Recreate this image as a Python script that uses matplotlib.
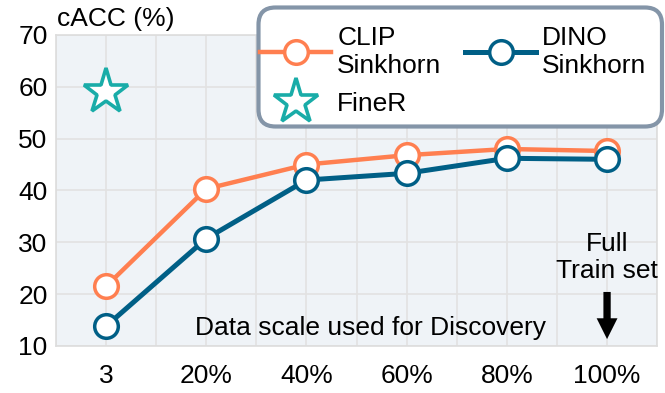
import matplotlib.pyplot as plt
from matplotlib.patches import FancyBboxPatch

plt.rcParams['font.family'] = ['Liberation Sans', 'DejaVu Sans']

# data
scales = ["3", "20%", "40%", "60%", "80%", "100%"]
clip_sinkhorn = [21.5, 40.3, 45.0, 46.8, 48.0, 47.6]
dino_sinkhorn = [13.8, 30.7, 42.0, 43.3, 46.2, 46.0]
finer_x = ["3"]
finer_y = [58.9]

orange = "#FF7F50"
blue = "#005F86"
teal = "#19ACA8"

fig = plt.figure(figsize=(6.65, 3.93), dpi=100)
ax = fig.add_axes([0.0842, 0.120, 0.904, 0.791])
ax.set_facecolor("#EFF3F7")

xs = list(range(len(scales)))
l1, = ax.plot(xs, clip_sinkhorn, color=orange, lw=3.2, marker="o", ms=17,
              mfc="white", mec=orange, mew=2.5, label="CLIP\nSinkhorn", zorder=3)
l2, = ax.plot(xs, dino_sinkhorn, color=blue, lw=3.6, marker="o", ms=17,
              mfc="white", mec=blue, mew=2.5, label="DINO\nSinkhorn", zorder=4)
fx = [scales.index(s) for s in finer_x]
l3, = ax.plot(fx, finer_y, ls="none", marker="*", ms=34, mfc="white",
              mec=teal, mew=2.6, label="FineR", zorder=5)

ax.set_xlim(-0.5, 5.5)
ax.set_ylim(10, 70)
ax.set_xticks(xs)
ax.set_xticklabels(scales)
ax.set_yticks(range(10, 71, 10))
ax.set_xticks([x + 0.5 for x in range(-1, 6)], minor=True)
ax.tick_params(which="both", length=0, labelsize=19)
ax.tick_params(axis="x", pad=13)
ax.tick_params(axis="y", pad=6)
ax.grid(True, which="minor", axis="x", color="#E2E2E2", lw=1.2)
ax.grid(True, which="major", axis="x", color="#E2E2E2", lw=1.2)
ax.grid(True, which="major", axis="y", color="#E2E2E2", lw=1.2)
ax.set_axisbelow(True)
for s in ax.spines.values():
    s.set_color("#DDDDDD")
    s.set_linewidth(1.2)

fig.text(0.085, 0.922, "cACC (%)", fontsize=19, va="bottom", ha="left")

ax.text(2.64, 13.5, "Data scale used for Discovery", fontsize=19,
        ha="center", va="center")
ax.text(5.0, 27.1, "Full\nTrain set", fontsize=19, ha="center", va="center",
        linespacing=1.15)
ax.annotate("", xy=(5.0, 11.3), xytext=(5.0, 20.4),
            arrowprops=dict(arrowstyle="simple,head_width=1.0,head_length=1.0,tail_width=0.35",
                            color="black", lw=0, mutation_scale=15,
                            shrinkA=0, shrinkB=0))

# legend box drawn separately (more padding on top than legend allows)
box = FancyBboxPatch((2.585, 2.665), 4.035, 1.19,
                     boxstyle="round,pad=0,rounding_size=0.17",
                     transform=fig.dpi_scale_trans, facecolor="white",
                     edgecolor="#8495A8", lw=3, zorder=10)
fig.patches.append(box)

leg = fig.legend(handles=[l1, l3, l2], ncol=2, loc="upper right",
                 bbox_to_anchor=(0.986, 0.957), fontsize=19, frameon=False,
                 handlelength=2.7, columnspacing=0.9,
                 labelspacing=0.55, borderpad=0.35, handletextpad=0.22,
                 borderaxespad=0.0)
leg.set_zorder(11)

fig.savefig("out.png", dpi=100)
